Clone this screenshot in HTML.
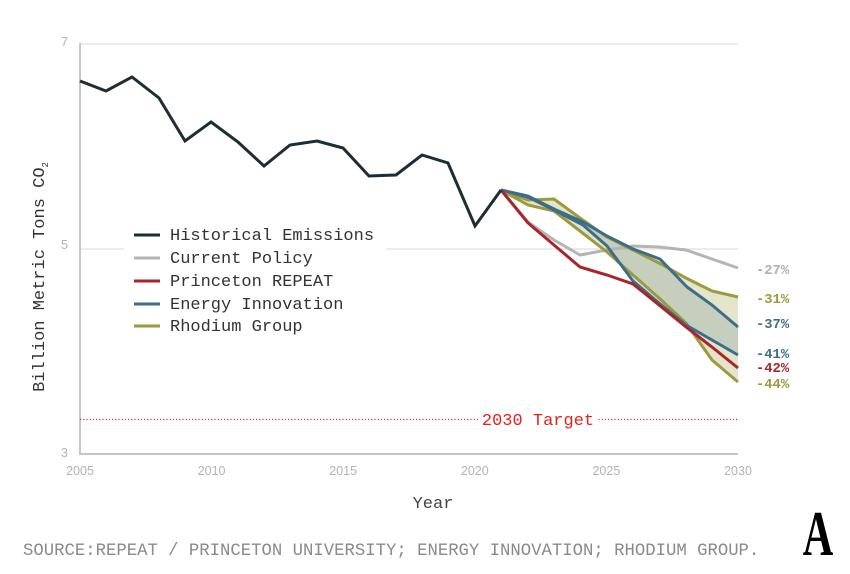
<!DOCTYPE html>
<html>
<head>
<meta charset="utf-8">
<style>
html,body{margin:0;padding:0;background:#fff;}
body{width:850px;height:574px;overflow:hidden;}
svg{display:block;}
.mono{font-family:"Liberation Mono","DejaVu Sans Mono",monospace;}
.sans{font-family:"Liberation Sans","DejaVu Sans",sans-serif;}
</style>
</head>
<body>
<svg width="850" height="574" viewBox="0 0 850 574" xmlns="http://www.w3.org/2000/svg">
  <rect width="850" height="574" fill="#fff"/>
  <!-- gridlines -->
  <line x1="80" y1="44" x2="738" y2="44" stroke="#e6e6e6" stroke-width="1.5"/>
  <line x1="80" y1="249" x2="738" y2="249" stroke="#e6e6e6" stroke-width="1.5"/>
  <!-- axes -->
  <line x1="80" y1="43" x2="80" y2="454" stroke="#c6c6c6" stroke-width="2"/>
  <line x1="79" y1="454" x2="738" y2="454" stroke="#c6c6c6" stroke-width="2"/>

  <!-- y tick labels -->
  <g class="sans" font-size="12.5" fill="#b3b3b3" text-anchor="end">
    <text x="68" y="46">7</text>
    <text x="68" y="249">5</text>
    <text x="68" y="457">3</text>
  </g>
  <!-- x tick labels -->
  <g class="sans" font-size="12.5" fill="#b3b3b3" text-anchor="middle">
    <text x="80" y="475">2005</text>
    <text x="211.6" y="475">2010</text>
    <text x="343.2" y="475">2015</text>
    <text x="474.8" y="475">2020</text>
    <text x="606.4" y="475">2025</text>
    <text x="738" y="475">2030</text>
  </g>

  <!-- target line -->
  <line x1="80" y1="419.5" x2="738" y2="419.5" stroke="#e52a2a" stroke-width="1.3" stroke-dasharray="1.2,2"/>
  <rect x="478" y="408" width="120" height="22" fill="#fff"/>
  <text class="mono" x="538" y="425" font-size="17" fill="#e8201c" text-anchor="middle">2030 Target</text>

  <!-- fills -->
  <polygon fill="rgba(156,154,60,0.27)" points="501,190 528,200 554,199 580,218 607,237 633,250 659,263 686,278 712,291 738,297 738,382 712,360 686,323 659,298 633,275 607,252 580,231 554,211 528,205"/>
  <polygon fill="rgba(60,110,138,0.18)" points="501,190 528,196 554,209 583,222 607,236 633,249 660,259 687,287 712,305 738,327 738,355 712,340 686,325 659,303 633,281 607,246 583,225 554,210 528,197"/>

  <!-- series -->
  <g fill="none" stroke-width="3" stroke-linejoin="miter" stroke-linecap="butt">
    <polyline stroke="#b4b4b4" points="501,190 528,222 554,240 580,255 607,250 633,246 659,247 686,250 712,259 738,268"/>
    <polyline stroke="#9c9a3c" points="501,190 528,200 554,199 580,218 607,237 633,250 659,263 686,278 712,291 738,297"/>
    <polyline stroke="#9c9a3c" points="501,190 528,205 554,211 580,231 607,252 633,275 659,298 686,323 712,360 738,382"/>
    <polyline stroke="#3c6e8a" points="501,190 528,196 554,209 583,222 607,236 633,249 660,259 687,287 712,305 738,327"/>
    <polyline stroke="#3c6e8a" points="501,190 528,197 554,210 583,225 607,246 633,281 659,303 686,325 712,340 738,355"/>
    <polyline stroke="#a8262a" points="501,190 528,223 554,245 580,267 607,275 633,284 659,305 686,327 712,347 738,368"/>
    <polyline stroke="#1e2c34" points="80,81 106,91 132,77 159,98 185,141 211,122 238,142 264,166 290,145 317,141 343,148 369,176 396,175 422,155 448,163 475,226 501,190"/>
  </g>

  <!-- end labels -->
  <g class="mono" font-size="13.8" font-weight="bold">
    <text x="756" y="274" fill="#b0b0b0">-27%</text>
    <text x="756" y="303" fill="#9c9a3c">-31%</text>
    <text x="756" y="328" fill="#3c6e8a">-37%</text>
    <text x="756" y="358" fill="#3c6e8a">-41%</text>
    <text x="756" y="372" fill="#a8262a">-42%</text>
    <text x="756" y="388" fill="#9c9a3c">-44%</text>
  </g>

  <!-- legend -->
  <rect x="124" y="222" width="262" height="118" fill="#fff"/>
  <g stroke-width="3">
    <line x1="134" y1="235" x2="160" y2="235" stroke="#1e2c34"/>
    <line x1="134" y1="258" x2="160" y2="258" stroke="#b4b4b4"/>
    <line x1="134" y1="281" x2="160" y2="281" stroke="#a8262a"/>
    <line x1="134" y1="304" x2="160" y2="304" stroke="#3c6e8a"/>
    <line x1="134" y1="326" x2="160" y2="326" stroke="#9c9a3c"/>
  </g>
  <g class="mono" font-size="17" fill="#333">
    <text x="170" y="240">Historical Emissions</text>
    <text x="170" y="263">Current Policy</text>
    <text x="170" y="286">Princeton REPEAT</text>
    <text x="170" y="309">Energy Innovation</text>
    <text x="170" y="331">Rhodium Group</text>
  </g>

  <!-- y axis title -->
  <text class="mono" font-size="17" fill="#333" text-anchor="middle" transform="translate(44,277) rotate(-90)">Billion Metric Tons CO<tspan font-size="9" dy="4">2</tspan></text>

  <!-- x axis title -->
  <text class="mono" x="433" y="508" font-size="17" fill="#444" text-anchor="middle">Year</text>

  <!-- source -->
  <text class="mono" x="23" y="555" font-size="17.3" fill="#8a8a8a">SOURCE:REPEAT / PRINCETON UNIVERSITY; ENERGY INNOVATION; RHODIUM GROUP.</text>

  <!-- logo -->
  <text x="818" y="555" font-family="'Liberation Serif','DejaVu Serif',serif" font-size="64" font-weight="bold" fill="#000" text-anchor="middle" transform="translate(818,0) scale(0.66,1) translate(-818,0)">A</text>
</svg>
</body>
</html>
